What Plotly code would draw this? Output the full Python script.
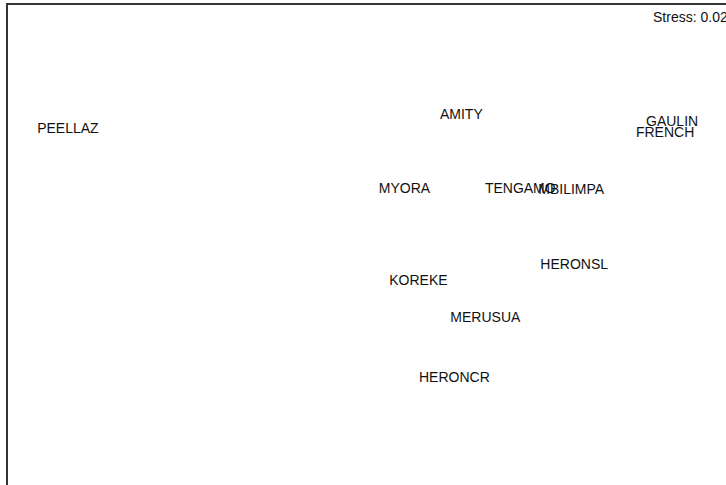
import plotly.graph_objects as go

# MDS configuration
sites = ["PEELLAZ", "AMITY", "GAULIN", "FRENCH", "MYORA", "TENGAMO",
         "MBILIMPA", "HERONSL", "KOREKE", "MERUSUA", "HERONCR"]
dim1 = [-1.665, 0.305, 1.36, 1.325, 0.02, 0.60, 0.855, 0.87, 0.09, 0.425, 0.27]
dim2 = [0.605, 0.675, 0.64, 0.585, 0.305, 0.305, 0.30, -0.075, -0.155, -0.34, -0.64]
stress_label = "Stress: 0.02"

fig = go.Figure()
fig.add_trace(go.Scatter(
    x=dim1, y=dim2, mode="text", text=sites, textposition="middle center",
    textfont=dict(family="Liberation Sans, Arial, sans-serif", size=14, color="#111111"),
    hoverinfo="text", showlegend=False,
))

fig.add_annotation(
    text=stress_label, xref="paper", yref="paper", x=0.8957, y=0.975,
    xanchor="left", yanchor="middle", showarrow=False,
    font=dict(family="Liberation Sans, Arial, sans-serif", size=14, color="#111111"),
)

fig.update_layout(
    width=726, height=485,
    margin=dict(l=8, r=0, t=5, b=0),
    paper_bgcolor="white", plot_bgcolor="white",
    xaxis=dict(range=[-1.965, 1.63], showgrid=False, zeroline=False, showticklabels=False,
               ticks="", side="top", showline=True, linecolor="#333333", linewidth=2),
    yaxis=dict(range=[-1.175, 1.225], showgrid=False, zeroline=False, showticklabels=False,
               ticks="", showline=True, linecolor="#333333", linewidth=2),
)

fig.write_html("out.html", config={"displayModeBar": False},
               post_script="document.body.style.margin='0';document.body.style.overflow='hidden';")
